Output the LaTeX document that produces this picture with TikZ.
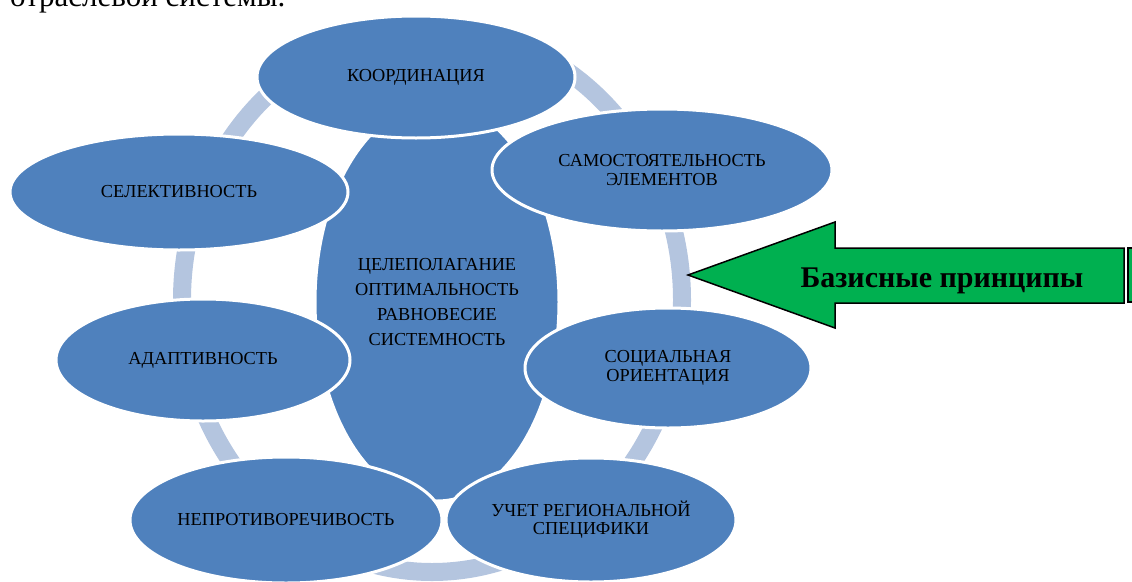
\documentclass[tikz,border=0pt]{standalone}
\usepackage{fontspec}
\setmainfont{Liberation Serif}
\usetikzlibrary{shapes.geometric}
\definecolor{blueA}{HTML}{4F81BD}
\definecolor{ringA}{HTML}{B4C5DF}
\definecolor{greenA}{HTML}{00B050}

\begin{document}
\begin{tikzpicture}[x=1pt,y=-1pt,
  main node/.style={ellipse,fill=blueA,draw=white,line width=3pt,inner sep=0pt,
  align=center,font=\fontsize{18.3}{18.3}\selectfont},
  ring/.style={draw=ringA,line width=18pt},
  arrow box/.style={fill=greenA,draw=black,line width=1.5pt}]
\useasboundingbox (0,0) rectangle (1132,581);
\clip (0,0) rectangle (1132,581);
\node[anchor=base west,inner sep=0pt,font=\fontsize{31}{31}\selectfont] (T) at (10,6.5) {отраслевой системы.};
\coordinate (O) at (432,300);
\draw[ring] (O) ellipse [x radius=250,y radius=272];
\node[main node,minimum width=244pt,minimum height=398pt,
  font=\fontsize{18.3}{25}\selectfont] (M) at (437,302)
  {ЦЕЛЕПОЛАГАНИЕ\\ОПТИМАЛЬНОСТЬ\\РАВНОВЕСИЕ\\СИСТЕМНОСТЬ};
\node[main node,minimum width=318pt,minimum height=122pt] (K) at (416,77) {КООРДИНАЦИЯ};
\node[main node,minimum width=340pt,minimum height=122pt] (S) at (662,170) {САМОСТОЯТЕЛЬНОСТЬ\\ЭЛЕМЕНТОВ};
\node[main node,minimum width=338pt,minimum height=116pt] (Se) at (179,192) {СЕЛЕКТИВНОСТЬ};
\node[main node,minimum width=294pt,minimum height=122pt] (A) at (203,360) {АДАПТИВНОСТЬ};
\node[main node,minimum width=286pt,minimum height=120pt] (So) at (668,368) {СОЦИАЛЬНАЯ\\ОРИЕНТАЦИЯ};
\node[main node,minimum width=312pt,minimum height=126pt] (N) at (286,520) {НЕПРОТИВОРЕЧИВОСТЬ};
\node[main node,minimum width=290pt,minimum height=124pt] (U) at (591,520) {УЧЕТ РЕГИОНАЛЬНОЙ\\СПЕЦИФИКИ};
\draw[arrow box] (688,275) -- (835,222) -- (835,248) -- (1124,248) -- (1124,303)
  -- (835,303) -- (835,328) -- cycle;
\node[anchor=base,inner sep=0pt,font=\fontsize{30}{30}\selectfont\bfseries] (B) at (942,287) {Базисные принципы};
\draw[arrow box] (1128,248) rectangle (1145,302);
\end{tikzpicture}
\end{document}
